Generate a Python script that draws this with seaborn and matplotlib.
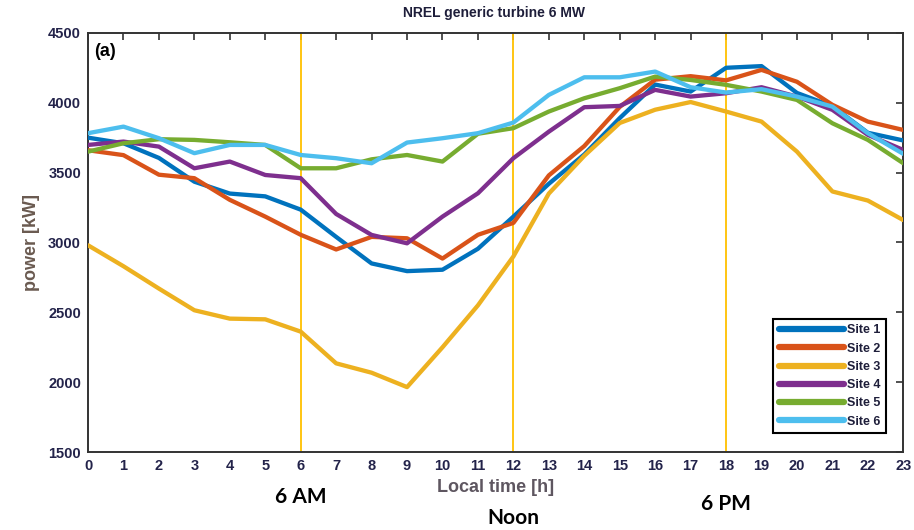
import numpy as np
import pandas as pd
import seaborn as sns
import matplotlib.pyplot as plt

# hourly values
hours = list(range(24))
site1 = [3750, 3710, 3605, 3435, 3350, 3330, 3235, 3040, 2850, 2795, 2805, 2955,
         3185, 3420, 3630, 3890, 4130, 4080, 4250, 4262, 4070, 3975, 3785, 3730]
site2 = [3660, 3625, 3485, 3460, 3305, 3185, 3055, 2950, 3040, 3030, 2885, 3055,
         3140, 3480, 3690, 3970, 4165, 4190, 4160, 4235, 4150, 3985, 3865, 3805]
site3 = [2980, 2830, 2670, 2515, 2455, 2450, 2362, 2135, 2068, 1965, 2250, 2550,
         2900, 3350, 3620, 3855, 3950, 4005, 3937, 3865, 3650, 3365, 3300, 3160]
site4 = [3698, 3722, 3686, 3531, 3579, 3483, 3460, 3204, 3054, 2994, 3185, 3352,
         3603, 3793, 3968, 3977, 4092, 4044, 4068, 4111, 4044, 3949, 3770, 3662]
site5 = [3650, 3710, 3739, 3734, 3717, 3698, 3531, 3531, 3595, 3626, 3579, 3778,
         3818, 3937, 4032, 4104, 4187, 4163, 4128, 4080, 4020, 3853, 3734, 3567]
site6 = [3782, 3829, 3746, 3639, 3698, 3698, 3626, 3603, 3567, 3715, 3746, 3782,
         3858, 4056, 4182, 4182, 4223, 4111, 4073, 4097, 4044, 3972, 3782, 3634]
site_names = ["Site 1", "Site 2", "Site 3", "Site 4", "Site 5", "Site 6"]
colors = ["#0072BD", "#D95319", "#EDB120", "#7E2F8E", "#77AC30", "#4DBEEE"]

marker_hours = [6, 12, 18]
marker_labels = ["6 AM", "Noon", "6 PM"]

# long table for seaborn
all_sites = [site1, site2, site3, site4, site5, site6]
df = pd.DataFrame({
    "hour": hours * len(all_sites),
    "power": np.concatenate(all_sites),
    "site": np.repeat(site_names, len(hours)),
})

sns.set_style("white")
plt.rcParams["font.family"] = ["Liberation Sans", "DejaVu Sans"]
plt.rcParams["font.weight"] = "bold"

fig = plt.figure(figsize=(9.14, 5.30), dpi=100)
ax = fig.add_axes([0.0963, 0.147, 0.892, 0.791])

# vertical marker lines
for h in marker_hours:
    ax.axvline(h, color="#FFC000", lw=1.3, zorder=1)

sns.lineplot(data=df, x="hour", y="power", hue="site", palette=colors,
             linewidth=3.1, ax=ax, zorder=3)

ax.set_xlim(0, 23)
ax.set_ylim(1500, 4500)
ax.set_xticks(hours)
ax.set_yticks(range(1500, 4501, 500))
ax.tick_params(direction="in", top=True, right=True, length=5, width=1.2,
               color="#333333", labelsize=10.5, labelcolor="#23234a", pad=5)
for lab in ax.get_xticklabels() + ax.get_yticklabels():
    lab.set_fontweight("bold")
for s in ax.spines.values():
    s.set_color("#333333")
    s.set_linewidth(1.4)

ax.set_xlabel("Local time [h]", fontsize=13, fontweight="bold",
              color="#5e5660", labelpad=4)
ax.set_ylabel("power [kW]", fontsize=13, fontweight="bold",
              color="#6a5a50", labelpad=6)
fig.text(0.541, 0.975, "NREL generic turbine 6 MW", ha="center", va="center",
         fontsize=10, fontweight="bold", color="#1e1e3a")
ax.text(0.008, 0.955, "(a)", transform=ax.transAxes, fontsize=13,
        fontweight="bold", va="center", ha="left", color="black")

# time-of-day annotations below the axis
label_y = [0.062, 0.022, 0.05]
for h, txt, yy in zip(marker_hours, marker_labels, label_y):
    xfig = ax.transData.transform((h, 1500))[0] / fig.bbox.width
    fig.text(xfig, yy, txt, ha="center", va="center", fontsize=15,
             fontweight="bold", color="black", family=["Lato", "DejaVu Sans"])

leg = ax.legend(loc="lower right", bbox_to_anchor=(0.987, 0.03), title=None,
                fontsize=9, handlelength=5.2, handletextpad=0.3,
                labelspacing=0.5, borderpad=0.45, fancybox=False,
                framealpha=1, edgecolor="black")
leg.get_frame().set_linewidth(1.5)
for line in leg.get_lines():
    line.set_linewidth(4.5)
for t in leg.get_texts():
    t.set_fontweight("bold")
    t.set_color("#1e1e3a")

fig.savefig("out.png", dpi=100)
